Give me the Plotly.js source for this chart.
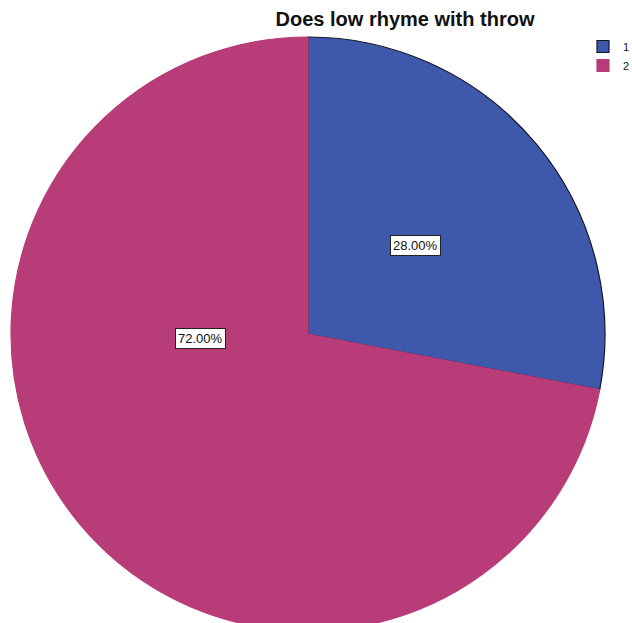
<!DOCTYPE html>
<html>
<head>
<meta charset="utf-8">
<script src="https://cdn.plot.ly/plotly-3.0.1.min.js"></script>
<style>
html, body { margin: 0; padding: 0; overflow: hidden; background: #fff; }
#chart { width: 632px; height: 640px; }
</style>
</head>
<body>
<div id="chart"></div>
<script>
const categories = ["1", "2"];
const values = [28, 72];
const sliceColors = ["#3E58AB", "#B83C78"];
const titleText = "Does low rhyme with throw";

const W = 632, H = 640;
const cx = 308, cy = 334, R = 297;

const total = values.reduce((a, b) => a + b, 0);
const pctText = values.map(v => (100 * v / total).toFixed(2) + "%");

const trace = {
  type: "pie",
  labels: categories,
  values: values,
  sort: false,
  direction: "clockwise",
  rotation: 0,
  textinfo: "none",
  hoverinfo: "label+percent",
  marker: {
    colors: sliceColors,
    line: { color: ["#15172a", "#B83C78"], width: 1.2 }
  },
  domain: {
    x: [(cx - R) / W, (cx + R) / W],
    y: [1 - (cy + R) / H, 1 - (cy - R) / H]
  }
};

// label positions (label boxes like SPSS) derived from slice geometry
const labelPos = [
  { ang: (values[0] / total) * Math.PI, r: 0.47 },
  { ang: 1.5 * Math.PI - 0.04, r: 0.362 }
];
const annotations = labelPos.map((p, i) => ({
  xref: "paper", yref: "paper",
  x: (cx + R * p.r * Math.sin(p.ang)) / W,
  y: 1 - (cy - R * p.r * Math.cos(p.ang)) / H,
  xanchor: "center", yanchor: "middle",
  text: pctText[i],
  showarrow: false,
  font: { family: "Arial, Liberation Sans, sans-serif", size: 13, color: "#111" },
  bgcolor: "#ffffff",
  bordercolor: "#222",
  borderwidth: 1,
  borderpad: 2
}));

const layout = {
  width: W, height: H,
  margin: { l: 0, r: 0, t: 0, b: 0, autoexpand: false },
  paper_bgcolor: "#ffffff",
  title: {
    text: "<b>" + titleText + "</b>",
    x: 405 / W, xanchor: "center",
    y: 1 - 19 / H, yanchor: "middle",
    font: { family: "Arial, Liberation Sans, sans-serif", size: 20, color: "#111" }
  },
  showlegend: true,
  legend: {
    x: 583 / W, xanchor: "left",
    y: 1 - 32 / H, yanchor: "top",
    font: { family: "Arial, Liberation Sans, sans-serif", size: 11, color: "#111" },
    bgcolor: "rgba(0,0,0,0)",
    tracegroupgap: 0
  },
  annotations: annotations
};

Plotly.newPlot("chart", [trace], layout, { displayModeBar: false, staticPlot: true });
</script>
</body>
</html>
